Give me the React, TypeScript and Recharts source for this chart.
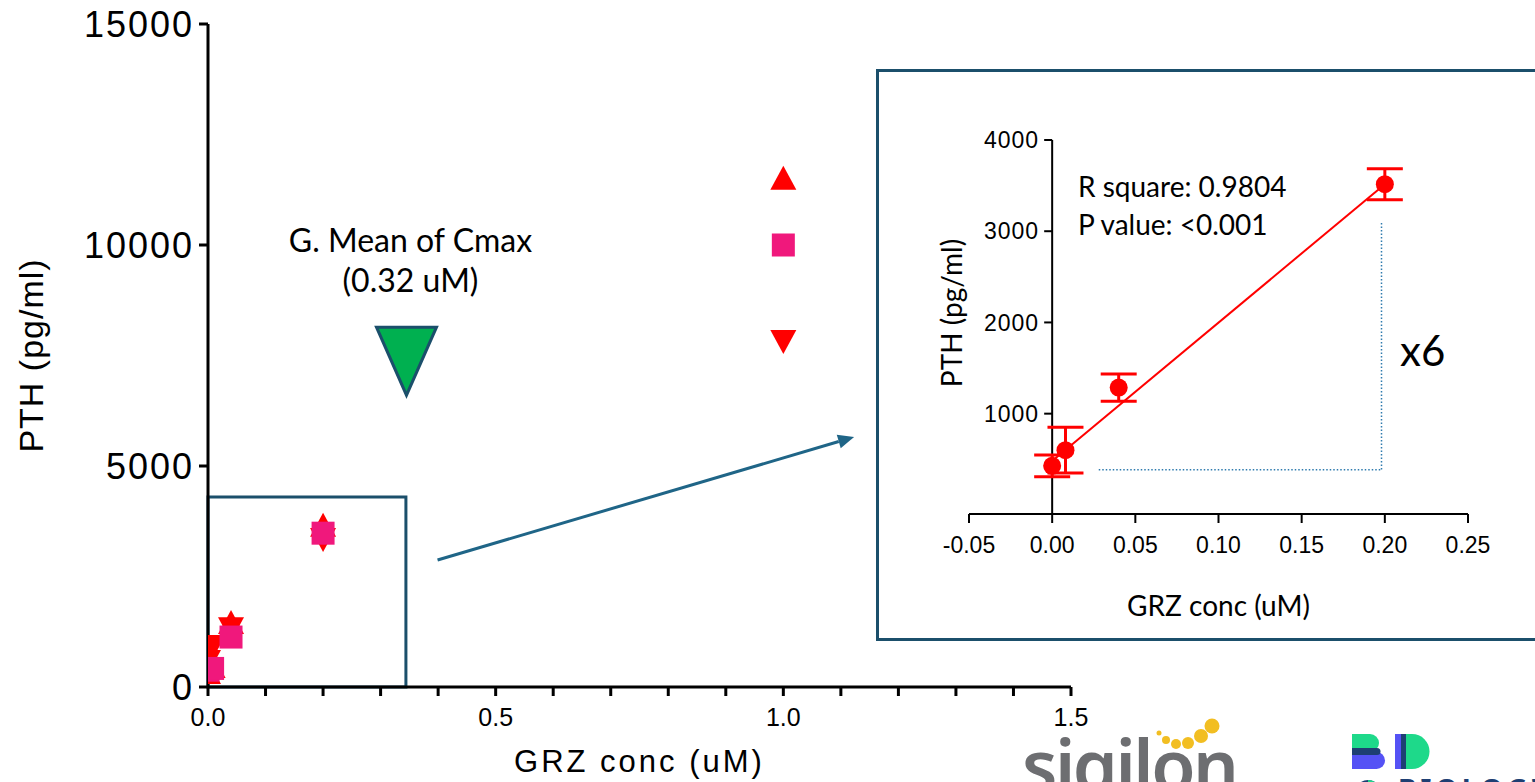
import React from "react"
import { ScatterChart, Scatter, XAxis, YAxis, ReferenceArea, ReferenceLine, ErrorBar } from "recharts"

// main plot: three donors, PTH vs GRZ concentration
const mainXTicks = [0, 0.1, 0.2, 0.3, 0.4, 0.5, 0.6, 0.7, 0.8, 0.9, 1.0, 1.1, 1.2, 1.3, 1.4, 1.5]
const mainXLabels = [0, 0.5, 1.0, 1.5]
const mainYTicks = [0, 5000, 10000, 15000]

const donorUp = [
  { x: 0, y: 316 },
  { x: 0.008, y: 450 },
  { x: 0.04, y: 1450 },
  { x: 0.2, y: 3650 },
  { x: 1.0, y: 11500 },
]
const donorDown = [
  { x: 0, y: 590 },
  { x: 0.008, y: 930 },
  { x: 0.04, y: 1330 },
  { x: 0.2, y: 3350 },
  { x: 1.0, y: 7830 },
]
const donorSquare = [
  { x: 0, y: 380 },
  { x: 0.008, y: 420 },
  { x: 0.04, y: 1130 },
  { x: 0.2, y: 3480 },
  { x: 1.0, y: 10000 },
]
const cmaxMarker = [{ x: 0.345, y: 7620 }]

// inset: mean +- error with linear fit
const insetXTicks = [-0.05, 0, 0.05, 0.1, 0.15, 0.2, 0.25]
const insetYTicks = [1000, 2000, 3000, 4000]
const insetMeans = [
  { x: 0, y: 428, err: 120 },
  { x: 0.008, y: 600, err: 250 },
  { x: 0.04, y: 1286, err: 150 },
  { x: 0.2, y: 3516, err: 170 },
]
const insetFit = [
  { x: 0, y: 480 },
  { x: 0.2, y: 3516 },
]

const ARIAL = "Arial, 'Liberation Sans', sans-serif"
const CALIBRI = "Lato, 'Open Sans', sans-serif"
const RED = "#FF0000"
const PINK = "#F0187C"
const BOX = "#1B4F6B"

const INSET_W = 659
const INSET_H = 572
const INSET_M = { top: 71, right: 67, bottom: 0, left: 0 }
const INSET_YAXIS_W = 93
const INSET_XAXIS_H = 127
const INSET_X_DOMAIN = [-0.05, 0.25]
const INSET_PLOT_W = INSET_W - INSET_M.left - INSET_M.right - INSET_YAXIS_W
const INSET_ZERO_X =
  INSET_M.left + INSET_YAXIS_W + (INSET_PLOT_W * (0 - INSET_X_DOMAIN[0])) / (INSET_X_DOMAIN[1] - INSET_X_DOMAIN[0])

function TriUp(props: any) {
  const { cx, cy } = props
  return <polygon points={`${cx},${cy - 13} ${cx - 13},${cy + 11} ${cx + 13},${cy + 11}`} fill={RED} />
}

function TriDown(props: any) {
  const { cx, cy } = props
  return <polygon points={`${cx - 13},${cy - 11} ${cx + 13},${cy - 11} ${cx},${cy + 13}`} fill={RED} />
}

function Square(props: any) {
  const { cx, cy } = props
  return <rect x={cx - 11.5} y={cy - 11.5} width={23} height={23} fill={PINK} />
}

function CmaxShape(props: any) {
  const { cx, cy } = props
  return (
    <g>
      <text x={cx + 4} y={cy - 98} textAnchor="middle" fontSize={32} fontFamily={CALIBRI} fill="#000">
        G. Mean of Cmax
      </text>
      <text x={cx + 4} y={cy - 58} textAnchor="middle" fontSize={32} fontFamily={CALIBRI} fill="#000">
        (0.32 uM)
      </text>
      <polygon
        points={`${cx - 30},${cy - 23} ${cx + 30},${cy - 23} ${cx},${cy + 45}`}
        fill="#00B050"
        stroke={BOX}
        strokeWidth={3}
        strokeLinejoin="miter"
      />
    </g>
  )
}

function ArrowShape(props: any) {
  const { x1, y1, x2, y2 } = props
  const a = Math.atan2(y2 - y1, x2 - x1)
  const len = 16
  const half = 7
  const bx = x2 - len * Math.cos(a)
  const by = y2 - len * Math.sin(a)
  const px = -Math.sin(a) * half
  const py = Math.cos(a) * half
  return (
    <g>
      <line x1={x1} y1={y1} x2={bx} y2={by} stroke="#1F6587" strokeWidth={3} />
      <polygon points={`${x2},${y2} ${bx + px},${by + py} ${bx - px},${by - py}`} fill="#1F6587" />
    </g>
  )
}

function MainXTick(props: any) {
  const { x, y, payload } = props
  if (!mainXLabels.includes(payload.value)) return <g />
  return (
    <text x={x} y={y} dy="0.71em" textAnchor="middle" fontSize={25} fontFamily={ARIAL} fill="#000">
      {payload.value.toFixed(1)}
    </text>
  )
}

function Dot(props: any) {
  const { cx, cy } = props
  return <circle cx={cx} cy={cy} r={9} fill={RED} />
}

function InsetYTick(props: any) {
  const { y, payload } = props
  return (
    <g>
      <line x1={INSET_ZERO_X - 8} x2={INSET_ZERO_X} y1={y} y2={y} stroke="#000" strokeWidth={2} />
      <text
        x={INSET_ZERO_X - 13}
        y={y}
        dy="0.355em"
        textAnchor="end"
        fontSize={23}
        letterSpacing={1}
        fontFamily={ARIAL}
        fill="#000"
      >
        {payload.value}
      </text>
    </g>
  )
}

function Logos() {
  return (
    <svg width={1535} height={782} style={{ position: "absolute", left: 0, top: 0, pointerEvents: "none" }}>
      <text x={1400} y={366} fontSize={42} fontFamily={CALIBRI} fill="#000">
        x6
      </text>
      <text x={1078} y={197} fontSize={28} fontFamily={CALIBRI} fill="#000">
        R square: 0.9804
      </text>
      <text x={1078} y={235} fontSize={28} fontFamily={CALIBRI} fill="#000">
        P value: &lt;0.001
      </text>

      <text x={1022} y={792} fontSize={72} fontWeight={600} letterSpacing={-2.5} fontFamily="'Noto Sans', sans-serif" fill="#6D6E71">
        sigilon
      </text>
      <circle cx={1159} cy={733} r={2.5} fill="#F2BE22" />
      <circle cx={1166} cy={740} r={4} fill="#F2BE22" />
      <circle cx={1176} cy={744} r={5} fill="#F2BE22" />
      <circle cx={1188} cy={743} r={6} fill="#F2BE22" />
      <circle cx={1201} cy={736} r={7} fill="#F2BE22" />
      <circle cx={1212} cy={726} r={7.5} fill="#F2BE22" />

      <path d="M1352 734 H1370 A9 9 0 0 1 1370 752 H1352 Z" fill="#1ED98A" />
      <path d="M1352 752 H1376.5 A8.5 8.5 0 0 1 1376.5 769 H1352 Z" fill="#5552F5" />
      <path d="M1352 748 H1377 A3 3 0 0 1 1377 755 H1352 Z" fill="#1E3F73" />
      <rect x={1395} y={734} width={6} height={35} fill="#5552F5" />
      <rect x={1401} y={734} width={5} height={35} fill="#1E3F73" />
      <path d="M1406 734 H1412 A17.5 17.5 0 0 1 1412 769 H1406 Z" fill="#1ED98A" />
      <circle cx={1368} cy={793} r={13} fill="#1E3F73" />
      <path d="M1368 780 A13 13 0 0 1 1381 793 H1368 Z" fill="#1ED98A" />
      <text x={1398} y={800} fontSize={28} fontWeight={700} letterSpacing={4} fontFamily="'Noto Sans', sans-serif" fill="#1E3F73">
        BIOLOGICS
      </text>
    </svg>
  )
}

export default function App() {
  return (
    <div style={{ position: "absolute", left: 0, top: 0, width: 1535, height: 782, overflow: "hidden", background: "#fff" }}>
      <div style={{ position: "absolute", left: 0, top: 0 }}>
        <ScatterChart width={1535} height={782} margin={{ top: 24, right: 464, bottom: 0, left: 18 }}>
          <XAxis
            type="number"
            dataKey="x"
            domain={[0, 1.5]}
            ticks={mainXTicks}
            interval={0}
            height={95}
            tickSize={9}
            tickMargin={12}
            tick={<MainXTick />}
            axisLine={{ stroke: "#000", strokeWidth: 3 }}
            tickLine={{ stroke: "#000", strokeWidth: 3 }}
            allowDataOverflow
            label={{
              content: (p: any) => (
                <text
                  x={p.viewBox.x + p.viewBox.width / 2}
                  y={p.viewBox.y + 85}
                  textAnchor="middle"
                  fontSize={31}
                  letterSpacing={3}
                  fontFamily={ARIAL}
                  fill="#000"
                >
                  GRZ conc (uM)
                </text>
              ),
            }}
          />
          <YAxis
            type="number"
            dataKey="y"
            domain={[0, 15000]}
            ticks={mainYTicks}
            interval={0}
            width={190}
            tickSize={9}
            tickMargin={5}
            tick={{ fontSize: 36, letterSpacing: 2, fontFamily: ARIAL, fill: "#000" }}
            axisLine={{ stroke: "#000", strokeWidth: 3 }}
            tickLine={{ stroke: "#000", strokeWidth: 3 }}
            allowDataOverflow
            label={{
              content: (p: any) => {
                const cx = p.viewBox.x + 25
                const cy = p.viewBox.y + p.viewBox.height / 2
                return (
                  <text
                    transform={`translate(${cx}, ${cy}) rotate(-90)`}
                    textAnchor="middle"
                    fontSize={34}
                    letterSpacing={1}
                    fontFamily={ARIAL}
                    fill="#000"
                  >
                    PTH (pg/ml)
                  </text>
                )
              },
            }}
          />
          <Scatter data={donorUp} shape={<TriUp />} isAnimationActive={false} />
          <Scatter data={donorDown} shape={<TriDown />} isAnimationActive={false} />
          <Scatter data={donorSquare} shape={<Square />} isAnimationActive={false} />
          <Scatter data={cmaxMarker} shape={<CmaxShape />} isAnimationActive={false} />
          <ReferenceArea x1={0} x2={0.344} y1={0} y2={4300} fill="none" stroke={BOX} strokeWidth={3} ifOverflow="visible" />
          <ReferenceLine
            segment={[
              { x: 0.399, y: 2873 },
              { x: 1.123, y: 5656 },
            ]}
            ifOverflow="visible"
            shape={<ArrowShape />}
          />
        </ScatterChart>
      </div>

      <div
        style={{
          position: "absolute",
          left: 876,
          top: 69,
          width: 720,
          height: INSET_H,
          border: `3px solid ${BOX}`,
          boxSizing: "border-box",
          background: "#fff",
        }}
      />
      <div style={{ position: "absolute", left: 876, top: 69 }}>
        <ScatterChart width={INSET_W} height={INSET_H} margin={INSET_M}>
          <XAxis
            type="number"
            dataKey="x"
            domain={INSET_X_DOMAIN}
            ticks={insetXTicks}
            interval={0}
            height={INSET_XAXIS_H}
            tickSize={9}
            tickMargin={14}
            tickFormatter={(v: number) => v.toFixed(2)}
            tick={{ fontSize: 23, fontFamily: ARIAL, fill: "#000" }}
            axisLine={{ stroke: "#000", strokeWidth: 2 }}
            tickLine={{ stroke: "#000", strokeWidth: 2 }}
            allowDataOverflow
            label={{
              content: (p: any) => (
                <text
                  x={p.viewBox.x + p.viewBox.width / 2}
                  y={p.viewBox.y + 102}
                  textAnchor="middle"
                  fontSize={28}
                  fontFamily={CALIBRI}
                  fill="#000"
                >
                  GRZ conc (uM)
                </text>
              ),
            }}
          />
          <YAxis
            type="number"
            dataKey="y"
            domain={[-100, 4000]}
            ticks={insetYTicks}
            interval={0}
            width={INSET_YAXIS_W}
            axisLine={false}
            tickLine={false}
            tick={<InsetYTick />}
            allowDataOverflow
            label={{
              content: (p: any) => {
                const cx = p.viewBox.x + 86
                const cy = p.viewBox.y + 173
                return (
                  <text
                    transform={`translate(${cx}, ${cy}) rotate(-90)`}
                    textAnchor="middle"
                    fontSize={28}
                    fontFamily={CALIBRI}
                    fill="#000"
                  >
                    PTH (pg/ml)
                  </text>
                )
              },
            }}
          />
          <ReferenceLine x={0} stroke="#000" strokeWidth={2} ifOverflow="visible" />
          <ReferenceLine
            segment={[
              { x: 0.028, y: 385 },
              { x: 0.198, y: 385 },
            ]}
            stroke="#2F7BAE"
            strokeWidth={1.5}
            strokeDasharray="1.5 2"
          />
          <ReferenceLine
            segment={[
              { x: 0.198, y: 3090 },
              { x: 0.198, y: 385 },
            ]}
            stroke="#2F7BAE"
            strokeWidth={1.5}
            strokeDasharray="1.5 2"
          />
          <Scatter data={insetFit} line={{ stroke: RED, strokeWidth: 2 }} shape={() => <g />} isAnimationActive={false} />
          <Scatter data={insetMeans} shape={<Dot />} isAnimationActive={false}>
            <ErrorBar dataKey="err" direction="y" width={18} strokeWidth={3} stroke={RED} isAnimationActive={false} />
          </Scatter>
        </ScatterChart>
      </div>

      <Logos />
    </div>
  )
}
